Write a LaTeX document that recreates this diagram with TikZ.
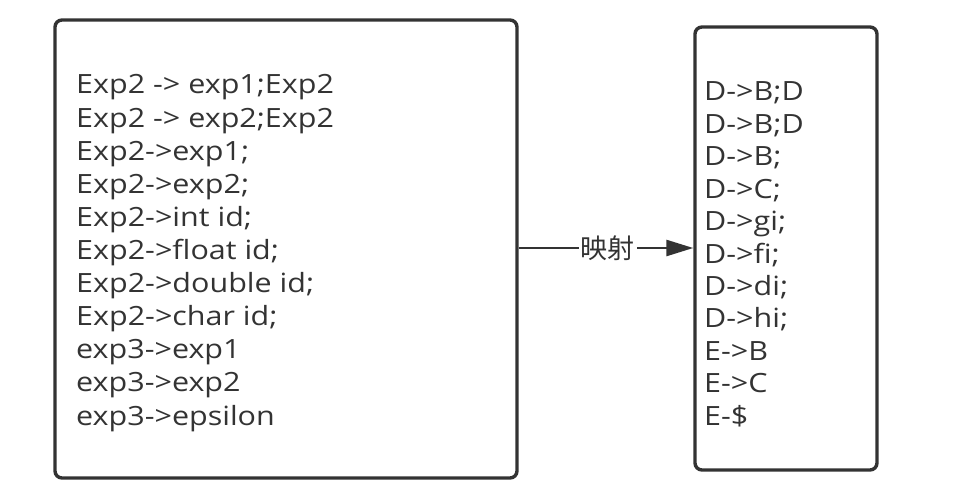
\documentclass[tikz,border=0pt]{standalone}
\usepackage{fontspec}
\setmainfont{Open Sans}[FakeStretch=1.15]
\newfontfamily\cjk{Noto Sans CJK SC}
\usetikzlibrary{arrows.meta}
\definecolor{ink}{HTML}{333333}
\begin{document}
\begin{tikzpicture}[x=1pt,y=-1pt,
  box/.style={draw=ink,line width=3.4pt,rounded corners=7pt},
  txt/.style={inner sep=0pt,anchor=base west,text=ink,font=\fontsize{26.5}{30}\selectfont},
  conn/.style={draw=ink,line width=2.6pt,-{Triangle[length=27pt,width=16pt]}}]
\useasboundingbox (0,0) rectangle (974,500);
\node[box,minimum width=462pt,minimum height=458pt,inner sep=0pt] (L) at (286,249) {};
\node[box,minimum width=182pt,minimum height=443pt,inner sep=0pt] (R) at (786,248.5) {};
\foreach [count=\i] \t in {{Exp2 -> exp1;Exp2},{Exp2 -> exp2;Exp2},{Exp2->exp1;},{Exp2->exp2;},{Exp2->int id;},{Exp2->float id;},{Exp2->double id;},{Exp2->char id;},{exp3->exp1},{exp3->exp2},{exp3->epsilon}}
  \node[txt] (l\i) at (76,{94+(\i-1)*33.1}) {\t};
\foreach [count=\i] \t in {{D->B;D},{D->B;D},{D->B;},{D->C;},{D->gi;},{D->fi;},{D->di;},{D->hi;},{E->B},{E->C},{E-\$}}
  \node[txt] (r\i) at (704,{101+(\i-1)*32.4}) {\t};
\draw[conn] (L.east |- 0,248) -- (R.west |- 0,248)
  node[pos=0.51,fill=white,inner sep=2pt,text=ink,font=\cjk\fontsize{27}{30}\selectfont] (m) {映射};
\end{tikzpicture}
\end{document}
